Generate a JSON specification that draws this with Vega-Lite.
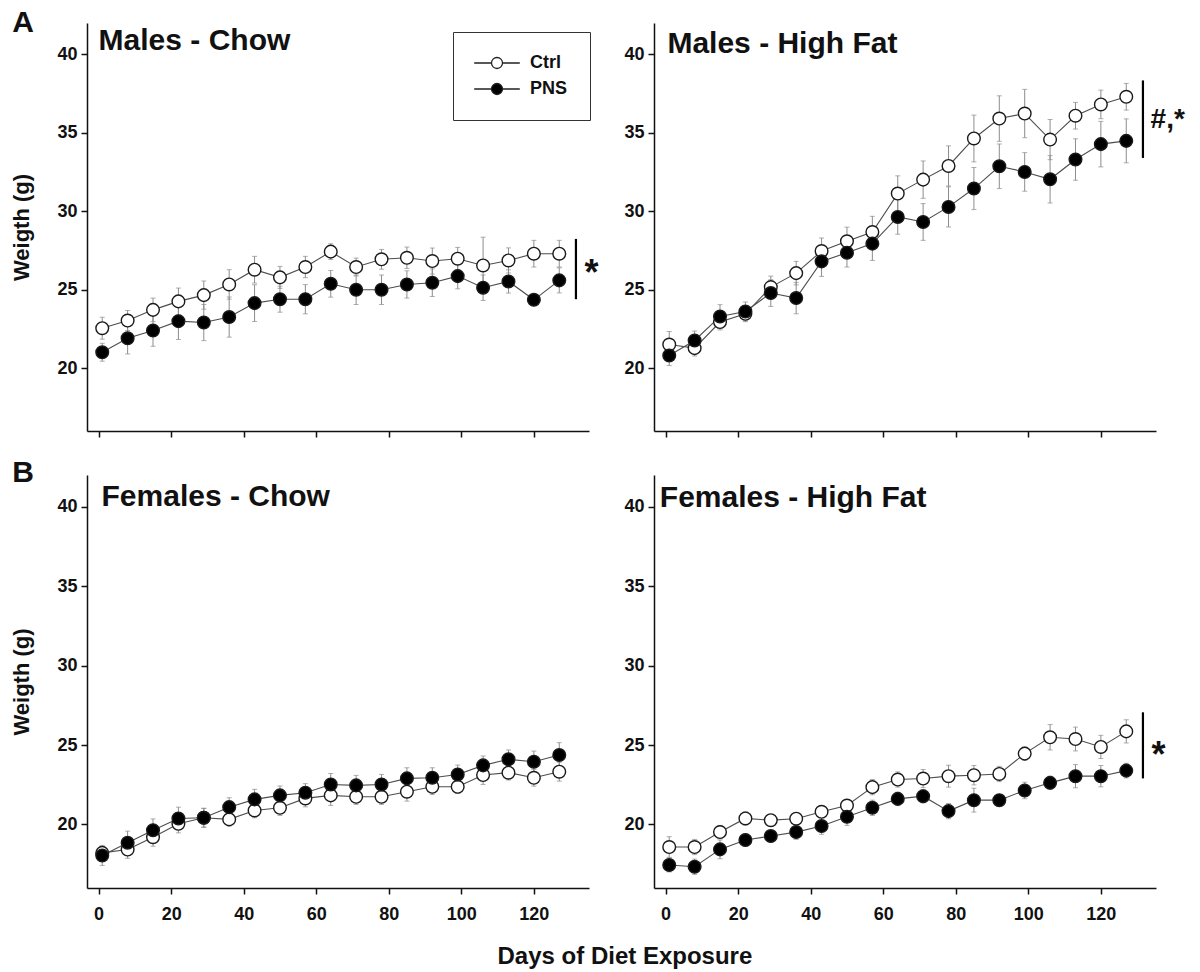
{
"$schema": "https://vega.github.io/schema/vega-lite/v6.json",
"autosize": {"type": "pad"},
"padding": {"left": 10, "top": 8, "right": 5, "bottom": 5},
"bounds": "flush",
"columns": 2,
"spacing": {"row": 44, "column": 65},
"config": {
  "font": "Liberation Sans",
  "view": {"stroke": null},
  "axis": {"domainColor": "#111", "domainWidth": 1.5, "tickColor": "#111", "tickWidth": 1.5, "tickSize": 6, "labelFont": "Liberation Sans", "labelFontSize": 18, "labelFontWeight": "bold", "labelColor": "#111", "grid": false, "titleFont": "Liberation Sans", "titleFontSize": 22, "titleFontWeight": "bold", "titleColor": "#111"},
  "text": {"font": "Liberation Sans", "fontWeight": "bold", "color": "#111"}
},
"title": {"text": "Days of Diet Exposure", "orient": "bottom", "anchor": "middle", "dx": 27, "fontSize": 24, "font": "Liberation Sans", "fontWeight": "bold", "color": "#111", "offset": 22},
"datasets": {"d": [
{"p":"MC","g":"Ctrl","d":1,"w":22.55,"e":0.7},{"p":"MC","g":"Ctrl","d":8,"w":23.04,"e":0.64},{"p":"MC","g":"Ctrl","d":15,"w":23.72,"e":0.75},{"p":"MC","g":"Ctrl","d":22,"w":24.26,"e":0.85},{"p":"MC","g":"Ctrl","d":29,"w":24.66,"e":0.9},{"p":"MC","g":"Ctrl","d":36,"w":25.34,"e":0.94},{"p":"MC","g":"Ctrl","d":43,"w":26.28,"e":0.85},{"p":"MC","g":"Ctrl","d":50,"w":25.79,"e":0.7},{"p":"MC","g":"Ctrl","d":57,"w":26.45,"e":0.68},{"p":"MC","g":"Ctrl","d":64,"w":27.43,"e":0.5},{"p":"MC","g":"Ctrl","d":71,"w":26.45,"e":0.57},{"p":"MC","g":"Ctrl","d":78,"w":26.94,"e":0.63},{"p":"MC","g":"Ctrl","d":85,"w":27.04,"e":0.68},{"p":"MC","g":"Ctrl","d":92,"w":26.83,"e":0.83},{"p":"MC","g":"Ctrl","d":99,"w":26.98,"e":0.72},{"p":"MC","g":"Ctrl","d":106,"w":26.55,"e":1.8},{"p":"MC","g":"Ctrl","d":113,"w":26.87,"e":0.8},{"p":"MC","g":"Ctrl","d":120,"w":27.3,"e":0.85},{"p":"MC","g":"Ctrl","d":127,"w":27.3,"e":0.85},
{"p":"MC","g":"PNS","d":1,"w":21.02,"e":0.57},{"p":"MC","g":"PNS","d":8,"w":21.91,"e":1.0},{"p":"MC","g":"PNS","d":15,"w":22.4,"e":1.0},{"p":"MC","g":"PNS","d":22,"w":23.0,"e":1.17},{"p":"MC","g":"PNS","d":29,"w":22.91,"e":1.15},{"p":"MC","g":"PNS","d":36,"w":23.26,"e":1.28},{"p":"MC","g":"PNS","d":43,"w":24.15,"e":1.17},{"p":"MC","g":"PNS","d":50,"w":24.4,"e":0.83},{"p":"MC","g":"PNS","d":57,"w":24.4,"e":0.93},{"p":"MC","g":"PNS","d":64,"w":25.38,"e":0.85},{"p":"MC","g":"PNS","d":71,"w":25.0,"e":0.94},{"p":"MC","g":"PNS","d":78,"w":25.0,"e":0.94},{"p":"MC","g":"PNS","d":85,"w":25.34,"e":0.87},{"p":"MC","g":"PNS","d":92,"w":25.45,"e":0.88},{"p":"MC","g":"PNS","d":99,"w":25.87,"e":0.81},{"p":"MC","g":"PNS","d":106,"w":25.13,"e":0.81},{"p":"MC","g":"PNS","d":113,"w":25.53,"e":0.74},{"p":"MC","g":"PNS","d":120,"w":24.36,"e":0.2},{"p":"MC","g":"PNS","d":127,"w":25.6,"e":0.8},
{"p":"MHF","g":"Ctrl","d":1,"w":21.51,"e":0.83},{"p":"MHF","g":"Ctrl","d":8,"w":21.28,"e":0.5},{"p":"MHF","g":"Ctrl","d":15,"w":22.94,"e":0.5},{"p":"MHF","g":"Ctrl","d":22,"w":23.47,"e":0.5},{"p":"MHF","g":"Ctrl","d":29,"w":25.17,"e":0.7},{"p":"MHF","g":"Ctrl","d":36,"w":26.06,"e":0.75},{"p":"MHF","g":"Ctrl","d":43,"w":27.47,"e":0.83},{"p":"MHF","g":"Ctrl","d":50,"w":28.09,"e":0.9},{"p":"MHF","g":"Ctrl","d":57,"w":28.68,"e":1.0},{"p":"MHF","g":"Ctrl","d":64,"w":31.13,"e":1.13},{"p":"MHF","g":"Ctrl","d":71,"w":32.02,"e":1.19},{"p":"MHF","g":"Ctrl","d":78,"w":32.89,"e":1.28},{"p":"MHF","g":"Ctrl","d":85,"w":34.64,"e":1.49},{"p":"MHF","g":"Ctrl","d":92,"w":35.91,"e":1.45},{"p":"MHF","g":"Ctrl","d":99,"w":36.23,"e":1.54},{"p":"MHF","g":"Ctrl","d":106,"w":34.57,"e":1.28},{"p":"MHF","g":"Ctrl","d":113,"w":36.09,"e":0.85},{"p":"MHF","g":"Ctrl","d":120,"w":36.81,"e":0.91},{"p":"MHF","g":"Ctrl","d":127,"w":37.3,"e":0.85},
{"p":"MHF","g":"PNS","d":1,"w":20.81,"e":0.64},{"p":"MHF","g":"PNS","d":8,"w":21.77,"e":0.6},{"p":"MHF","g":"PNS","d":15,"w":23.3,"e":0.75},{"p":"MHF","g":"PNS","d":22,"w":23.62,"e":0.6},{"p":"MHF","g":"PNS","d":29,"w":24.79,"e":0.85},{"p":"MHF","g":"PNS","d":36,"w":24.47,"e":1.0},{"p":"MHF","g":"PNS","d":43,"w":26.81,"e":0.96},{"p":"MHF","g":"PNS","d":50,"w":27.36,"e":0.91},{"p":"MHF","g":"PNS","d":57,"w":27.94,"e":1.07},{"p":"MHF","g":"PNS","d":64,"w":29.64,"e":1.1},{"p":"MHF","g":"PNS","d":71,"w":29.32,"e":1.17},{"p":"MHF","g":"PNS","d":78,"w":30.28,"e":1.28},{"p":"MHF","g":"PNS","d":85,"w":31.45,"e":1.34},{"p":"MHF","g":"PNS","d":92,"w":32.87,"e":1.42},{"p":"MHF","g":"PNS","d":99,"w":32.51,"e":1.23},{"p":"MHF","g":"PNS","d":106,"w":32.04,"e":1.51},{"p":"MHF","g":"PNS","d":113,"w":33.3,"e":1.32},{"p":"MHF","g":"PNS","d":120,"w":34.28,"e":1.45},{"p":"MHF","g":"PNS","d":127,"w":34.49,"e":1.4},
{"p":"FC","g":"Ctrl","d":1,"w":18.21,"e":0.35},{"p":"FC","g":"Ctrl","d":8,"w":18.42,"e":0.55},{"p":"FC","g":"Ctrl","d":15,"w":19.2,"e":0.57},{"p":"FC","g":"Ctrl","d":22,"w":20.04,"e":0.57},{"p":"FC","g":"Ctrl","d":29,"w":20.42,"e":0.6},{"p":"FC","g":"Ctrl","d":36,"w":20.32,"e":0.42},{"p":"FC","g":"Ctrl","d":43,"w":20.88,"e":0.46},{"p":"FC","g":"Ctrl","d":50,"w":21.05,"e":0.48},{"p":"FC","g":"Ctrl","d":57,"w":21.64,"e":0.53},{"p":"FC","g":"Ctrl","d":64,"w":21.83,"e":0.63},{"p":"FC","g":"Ctrl","d":71,"w":21.74,"e":0.48},{"p":"FC","g":"Ctrl","d":78,"w":21.74,"e":0.48},{"p":"FC","g":"Ctrl","d":85,"w":22.06,"e":0.59},{"p":"FC","g":"Ctrl","d":92,"w":22.37,"e":0.48},{"p":"FC","g":"Ctrl","d":99,"w":22.37,"e":0.42},{"p":"FC","g":"Ctrl","d":106,"w":23.11,"e":0.59},{"p":"FC","g":"Ctrl","d":113,"w":23.26,"e":0.46},{"p":"FC","g":"Ctrl","d":120,"w":22.94,"e":0.53},{"p":"FC","g":"Ctrl","d":127,"w":23.32,"e":0.59},
{"p":"FC","g":"PNS","d":1,"w":18.05,"e":0.63},{"p":"FC","g":"PNS","d":8,"w":18.85,"e":0.73},{"p":"FC","g":"PNS","d":15,"w":19.64,"e":0.71},{"p":"FC","g":"PNS","d":22,"w":20.38,"e":0.71},{"p":"FC","g":"PNS","d":29,"w":20.42,"e":0.59},{"p":"FC","g":"PNS","d":36,"w":21.09,"e":0.59},{"p":"FC","g":"PNS","d":43,"w":21.58,"e":0.63},{"p":"FC","g":"PNS","d":50,"w":21.83,"e":0.59},{"p":"FC","g":"PNS","d":57,"w":22.0,"e":0.57},{"p":"FC","g":"PNS","d":64,"w":22.52,"e":0.69},{"p":"FC","g":"PNS","d":71,"w":22.46,"e":0.63},{"p":"FC","g":"PNS","d":78,"w":22.52,"e":0.63},{"p":"FC","g":"PNS","d":85,"w":22.9,"e":0.67},{"p":"FC","g":"PNS","d":92,"w":22.94,"e":0.63},{"p":"FC","g":"PNS","d":99,"w":23.15,"e":0.59},{"p":"FC","g":"PNS","d":106,"w":23.72,"e":0.59},{"p":"FC","g":"PNS","d":113,"w":24.1,"e":0.59},{"p":"FC","g":"PNS","d":120,"w":23.95,"e":0.67},{"p":"FC","g":"PNS","d":127,"w":24.37,"e":0.78},
{"p":"FHF","g":"Ctrl","d":1,"w":18.58,"e":0.65},{"p":"FHF","g":"Ctrl","d":8,"w":18.58,"e":0.48},{"p":"FHF","g":"Ctrl","d":15,"w":19.52,"e":0.42},{"p":"FHF","g":"Ctrl","d":22,"w":20.38,"e":0.42},{"p":"FHF","g":"Ctrl","d":29,"w":20.27,"e":0.35},{"p":"FHF","g":"Ctrl","d":36,"w":20.36,"e":0.3},{"p":"FHF","g":"Ctrl","d":43,"w":20.8,"e":0.35},{"p":"FHF","g":"Ctrl","d":50,"w":21.19,"e":0.38},{"p":"FHF","g":"Ctrl","d":57,"w":22.35,"e":0.48},{"p":"FHF","g":"Ctrl","d":64,"w":22.83,"e":0.48},{"p":"FHF","g":"Ctrl","d":71,"w":22.89,"e":0.57},{"p":"FHF","g":"Ctrl","d":78,"w":23.04,"e":0.69},{"p":"FHF","g":"Ctrl","d":85,"w":23.1,"e":0.61},{"p":"FHF","g":"Ctrl","d":92,"w":23.18,"e":0.48},{"p":"FHF","g":"Ctrl","d":99,"w":24.46,"e":0.42},{"p":"FHF","g":"Ctrl","d":106,"w":25.49,"e":0.8},{"p":"FHF","g":"Ctrl","d":113,"w":25.38,"e":0.75},{"p":"FHF","g":"Ctrl","d":120,"w":24.88,"e":0.73},{"p":"FHF","g":"Ctrl","d":127,"w":25.86,"e":0.73},
{"p":"FHF","g":"PNS","d":1,"w":17.45,"e":0.44},{"p":"FHF","g":"PNS","d":8,"w":17.34,"e":0.48},{"p":"FHF","g":"PNS","d":15,"w":18.43,"e":0.59},{"p":"FHF","g":"PNS","d":22,"w":19.02,"e":0.4},{"p":"FHF","g":"PNS","d":29,"w":19.27,"e":0.35},{"p":"FHF","g":"PNS","d":36,"w":19.52,"e":0.46},{"p":"FHF","g":"PNS","d":43,"w":19.9,"e":0.52},{"p":"FHF","g":"PNS","d":50,"w":20.48,"e":0.54},{"p":"FHF","g":"PNS","d":57,"w":21.05,"e":0.48},{"p":"FHF","g":"PNS","d":64,"w":21.61,"e":0.42},{"p":"FHF","g":"PNS","d":71,"w":21.78,"e":0.42},{"p":"FHF","g":"PNS","d":78,"w":20.84,"e":0.48},{"p":"FHF","g":"PNS","d":85,"w":21.53,"e":0.75},{"p":"FHF","g":"PNS","d":92,"w":21.53,"e":0.33},{"p":"FHF","g":"PNS","d":99,"w":22.14,"e":0.52},{"p":"FHF","g":"PNS","d":106,"w":22.62,"e":0.42},{"p":"FHF","g":"PNS","d":113,"w":23.04,"e":0.73},{"p":"FHF","g":"PNS","d":120,"w":23.04,"e":0.67},{"p":"FHF","g":"PNS","d":127,"w":23.39,"e":0.46}
]},
"resolve": {"scale": {"fill": "independent"}, "legend": {"fill": "independent"}},
"concat": [
 {"width": 502, "height": 408, "layer": [
  {"data": {"name": "d"}, "transform": [{"filter": "datum.p === 'MC'"}], "mark": {"type": "errorbar", "ticks": true, "size": 5, "thickness": 1, "color": "#8c8c8c"},
   "encoding": {"x": {"field": "d", "type": "quantitative", "scale": {"domain": [-3.2, 135.2], "nice": false, "zero": false}, "axis": {"values": [0,20,40,60,80,100,120], "labels": false, "title": null}},
     "y": {"field": "w", "type": "quantitative", "scale": {"domain": [16, 42], "nice": false, "zero": false}, "axis": {"values": [20,25,30,35,40], "title": "Weigth (g)", "labelPadding": 4, "titlePadding": 23}},
     "yError": {"field": "e"}}},
  {"data": {"name": "d"}, "transform": [{"filter": "datum.p === 'MC'"}], "mark": {"type": "line", "color": "#4d4d4d", "strokeWidth": 1.1},
   "encoding": {"x": {"field": "d", "type": "quantitative"}, "y": {"field": "w", "type": "quantitative"}, "detail": {"field": "g"}}},
  {"data": {"name": "d"}, "transform": [{"filter": "datum.p === 'MC'"}], "mark": {"type": "point", "shape": "circle", "filled": true, "size": 160, "stroke": "#1a1a1a", "strokeWidth": 1.4, "opacity": 1},
   "encoding": {"x": {"field": "d", "type": "quantitative"}, "y": {"field": "w", "type": "quantitative"},
     "fill": {"field": "g", "type": "nominal", "scale": {"domain": ["Ctrl", "PNS"], "range": ["#ffffff", "#000000"]},
       "legend": {"title": null, "orient": "none", "legendX": 366, "legendY": 9, "strokeColor": "#333", "padding": 22, "symbolType": "M-3.8,0H-0.92M0.92,0H3.8M-0.92,0A0.92,0.92 0 1,0 0.92,0A0.92,0.92 0 1,0 -0.92,0Z", "symbolSize": 144, "symbolStrokeColor": "#222", "symbolStrokeWidth": 1.3, "labelFontSize": 18, "labelFontWeight": "bold", "labelFont": "Liberation Sans", "labelColor": "#111", "labelOffset": 24, "rowPadding": 8, "symbolOffset": 13}}}},
  {"data": {"values": [{}]}, "mark": {"type": "text", "text": "Males - Chow", "align": "left", "baseline": "alphabetic", "fontSize": 30}, "encoding": {"x": {"datum": 0}, "y": {"datum": 40.25}}},
  {"data": {"values": [{}]}, "mark": {"type": "text", "text": "A", "align": "center", "baseline": "alphabetic", "fontSize": 30}, "encoding": {"x": {"datum": -20.8}, "y": {"datum": 41.4}}},
  {"data": {"values": [{}]}, "mark": {"type": "rule", "strokeWidth": 2.2, "color": "#000"}, "encoding": {"x": {"datum": 131.6}, "y": {"datum": 28.24}, "y2": {"datum": 24.4}}},
  {"data": {"values": [{}]}, "mark": {"type": "text", "text": "*", "align": "center", "baseline": "alphabetic", "fontSize": 36}, "encoding": {"x": {"datum": 135.9}, "y": {"datum": 25.3}}}
 ]},
 {"width": 502, "height": 408, "layer": [
  {"data": {"name": "d"}, "transform": [{"filter": "datum.p === 'MHF'"}], "mark": {"type": "errorbar", "ticks": true, "size": 5, "thickness": 1, "color": "#8c8c8c"},
   "encoding": {"x": {"field": "d", "type": "quantitative", "scale": {"domain": [-3.2, 135.2], "nice": false, "zero": false}, "axis": {"values": [0,20,40,60,80,100,120], "labels": false, "title": null}},
     "y": {"field": "w", "type": "quantitative", "scale": {"domain": [16, 42], "nice": false, "zero": false}, "axis": {"values": [20,25,30,35,40], "title": null, "labelPadding": 4}},
     "yError": {"field": "e"}}},
  {"data": {"name": "d"}, "transform": [{"filter": "datum.p === 'MHF'"}], "mark": {"type": "line", "color": "#4d4d4d", "strokeWidth": 1.1},
   "encoding": {"x": {"field": "d", "type": "quantitative"}, "y": {"field": "w", "type": "quantitative"}, "detail": {"field": "g"}}},
  {"data": {"name": "d"}, "transform": [{"filter": "datum.p === 'MHF'"}], "mark": {"type": "point", "shape": "circle", "filled": true, "size": 160, "stroke": "#1a1a1a", "strokeWidth": 1.4, "opacity": 1},
   "encoding": {"x": {"field": "d", "type": "quantitative"}, "y": {"field": "w", "type": "quantitative"},
     "fill": {"field": "g", "type": "nominal", "scale": {"domain": ["Ctrl", "PNS"], "range": ["#ffffff", "#000000"]}, "legend": null}}},
  {"data": {"values": [{}]}, "mark": {"type": "text", "text": "Males - High Fat", "align": "left", "baseline": "alphabetic", "fontSize": 30}, "encoding": {"x": {"datum": 0.5}, "y": {"datum": 40.1}}},
  {"data": {"values": [{}]}, "mark": {"type": "rule", "strokeWidth": 2.2, "color": "#000"}, "encoding": {"x": {"datum": 131.6}, "y": {"datum": 38.34}, "y2": {"datum": 33.4}}},
  {"data": {"values": [{}]}, "mark": {"type": "text", "text": "#,*", "align": "left", "baseline": "alphabetic", "fontSize": 28}, "encoding": {"x": {"datum": 133.7}, "y": {"datum": 35.3}}}
 ]},
 {"width": 502, "height": 413, "layer": [
  {"data": {"name": "d"}, "transform": [{"filter": "datum.p === 'FC'"}], "mark": {"type": "errorbar", "ticks": true, "size": 5, "thickness": 1, "color": "#8c8c8c"},
   "encoding": {"x": {"field": "d", "type": "quantitative", "scale": {"domain": [-3.2, 135.2], "nice": false, "zero": false}, "axis": {"values": [0,20,40,60,80,100,120], "labels": true, "title": null, "labelPadding": 11}},
     "y": {"field": "w", "type": "quantitative", "scale": {"domain": [16, 42], "nice": false, "zero": false}, "axis": {"values": [20,25,30,35,40], "title": "Weigth (g)", "labelPadding": 4, "titlePadding": 23}},
     "yError": {"field": "e"}}},
  {"data": {"name": "d"}, "transform": [{"filter": "datum.p === 'FC'"}], "mark": {"type": "line", "color": "#4d4d4d", "strokeWidth": 1.1},
   "encoding": {"x": {"field": "d", "type": "quantitative"}, "y": {"field": "w", "type": "quantitative"}, "detail": {"field": "g"}}},
  {"data": {"name": "d"}, "transform": [{"filter": "datum.p === 'FC'"}], "mark": {"type": "point", "shape": "circle", "filled": true, "size": 160, "stroke": "#1a1a1a", "strokeWidth": 1.4, "opacity": 1},
   "encoding": {"x": {"field": "d", "type": "quantitative"}, "y": {"field": "w", "type": "quantitative"},
     "fill": {"field": "g", "type": "nominal", "scale": {"domain": ["Ctrl", "PNS"], "range": ["#ffffff", "#000000"]}, "legend": null}}},
  {"data": {"values": [{}]}, "mark": {"type": "text", "text": "Females - Chow", "align": "left", "baseline": "alphabetic", "fontSize": 30}, "encoding": {"x": {"datum": 0.8}, "y": {"datum": 40.05}}},
  {"data": {"values": [{}]}, "mark": {"type": "text", "text": "B", "align": "center", "baseline": "alphabetic", "fontSize": 30}, "encoding": {"x": {"datum": -20.8}, "y": {"datum": 41.56}}}
 ]},
 {"width": 502, "height": 413, "layer": [
  {"data": {"name": "d"}, "transform": [{"filter": "datum.p === 'FHF'"}], "mark": {"type": "errorbar", "ticks": true, "size": 5, "thickness": 1, "color": "#8c8c8c"},
   "encoding": {"x": {"field": "d", "type": "quantitative", "scale": {"domain": [-3.2, 135.2], "nice": false, "zero": false}, "axis": {"values": [0,20,40,60,80,100,120], "labels": true, "title": null, "labelPadding": 11}},
     "y": {"field": "w", "type": "quantitative", "scale": {"domain": [16, 42], "nice": false, "zero": false}, "axis": {"values": [20,25,30,35,40], "title": null, "labelPadding": 4}},
     "yError": {"field": "e"}}},
  {"data": {"name": "d"}, "transform": [{"filter": "datum.p === 'FHF'"}], "mark": {"type": "line", "color": "#4d4d4d", "strokeWidth": 1.1},
   "encoding": {"x": {"field": "d", "type": "quantitative"}, "y": {"field": "w", "type": "quantitative"}, "detail": {"field": "g"}}},
  {"data": {"name": "d"}, "transform": [{"filter": "datum.p === 'FHF'"}], "mark": {"type": "point", "shape": "circle", "filled": true, "size": 160, "stroke": "#1a1a1a", "strokeWidth": 1.4, "opacity": 1},
   "encoding": {"x": {"field": "d", "type": "quantitative"}, "y": {"field": "w", "type": "quantitative"},
     "fill": {"field": "g", "type": "nominal", "scale": {"domain": ["Ctrl", "PNS"], "range": ["#ffffff", "#000000"]}, "legend": null}}},
  {"data": {"values": [{}]}, "mark": {"type": "text", "text": "Females - High Fat", "align": "left", "baseline": "alphabetic", "fontSize": 30}, "encoding": {"x": {"datum": -1.6}, "y": {"datum": 40.0}}},
  {"data": {"values": [{}]}, "mark": {"type": "rule", "strokeWidth": 2.2, "color": "#000"}, "encoding": {"x": {"datum": 131.6}, "y": {"datum": 27.06}, "y2": {"datum": 22.9}}},
  {"data": {"values": [{}]}, "mark": {"type": "text", "text": "*", "align": "center", "baseline": "alphabetic", "fontSize": 36}, "encoding": {"x": {"datum": 135.9}, "y": {"datum": 23.6}}}
 ]}
]
}
